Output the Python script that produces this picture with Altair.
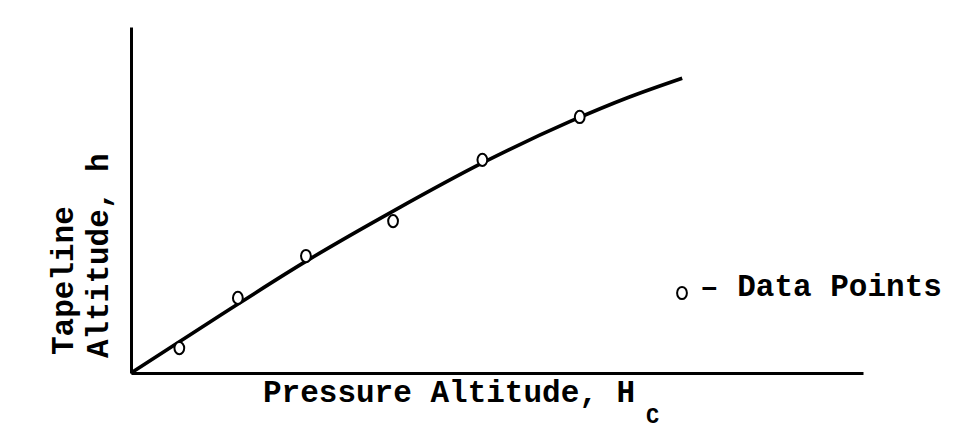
import altair as alt
import pandas as pd

# Fitted curve in arbitrary units (0-100 on both axes)
curve_x = [0.0, 12.0, 24.0, 36.0, 48.0, 60.0, 68.0, 75.3]
curve_y = [0.0, 16.4, 32.4, 47.0, 60.7, 72.7, 79.7, 85.2]

# Data points
pts_x = [6.6, 14.6, 23.9, 35.8, 48.0, 61.3]
pts_y = [7.2, 21.7, 33.8, 43.9, 61.6, 74.0]

x_title = ["Pressure Altitude, H"]
x_sub = ["C"]
y_title_1 = ["Tapeline"]
y_title_2 = ["Altitude, h"]
legend_text = ["\u2013 Data Points"]

FONT = "Liberation Mono"
OVAL = "M-0.8,0A0.8,1,0,1,0,0.8,0A0.8,1,0,1,0,-0.8,0Z"

curve_df = pd.DataFrame({"x": curve_x, "y": curve_y})
pts_df = pd.DataFrame({"x": pts_x, "y": pts_y})

xs = alt.Scale(domain=[0, 100], nice=False, zero=False)
ys = alt.Scale(domain=[0, 100], nice=False, zero=False)

axis_style = dict(domain=True, domainColor="black", domainWidth=3, ticks=False,
                  labels=False, grid=False, title=None)

line = alt.Chart(curve_df).mark_line(color="black", strokeWidth=3.6, interpolate="monotone").encode(
    x=alt.X("x:Q", scale=xs, axis=alt.Axis(**axis_style)),
    y=alt.Y("y:Q", scale=ys, axis=alt.Axis(**axis_style)),
)

points = alt.Chart(pts_df).mark_point(shape=OVAL, filled=True, fill="white", stroke="black",
                                       strokeWidth=2, size=150, opacity=1).encode(
    x=alt.X("x:Q", scale=xs),
    y=alt.Y("y:Q", scale=ys),
)

def txt(data, size, x, y, angle=0, align="left"):
    return alt.Chart(pd.DataFrame({"t": data})).mark_text(
        font=FONT, fontWeight="bold", fontSize=size, color="black",
        align=align, baseline="alphabetic", angle=angle
    ).encode(x=alt.value(x), y=alt.value(y), text="t:N")

# positions relative to plot origin (131, 27)
t_x = txt(x_title, 31, 132, 375)
t_sub = txt(x_sub, 22, 515, 396)
t_y1 = txt(y_title_1, 31, -58, 328, angle=270)
t_y2 = txt(y_title_2, 31, -23, 331, angle=270)
t_leg = txt(legend_text, 31, 569, 269)

leg_pt = alt.Chart(pd.DataFrame({"t": ["o"]})).mark_point(
    shape=OVAL, filled=True, fill="white", stroke="black", strokeWidth=2, size=150, opacity=1
).encode(x=alt.value(551), y=alt.value(266))

chart = alt.layer(line, points, leg_pt, t_x, t_sub, t_y1, t_y2, t_leg).properties(
    width=732, height=346,
    autosize=alt.AutoSizeParams(type="none"),
    padding={"left": 131, "top": 27, "right": 93, "bottom": 60},
    background="white",
).configure_view(stroke=None)

chart.save("out.html", embed_options={"renderer": "svg", "actions": False})
